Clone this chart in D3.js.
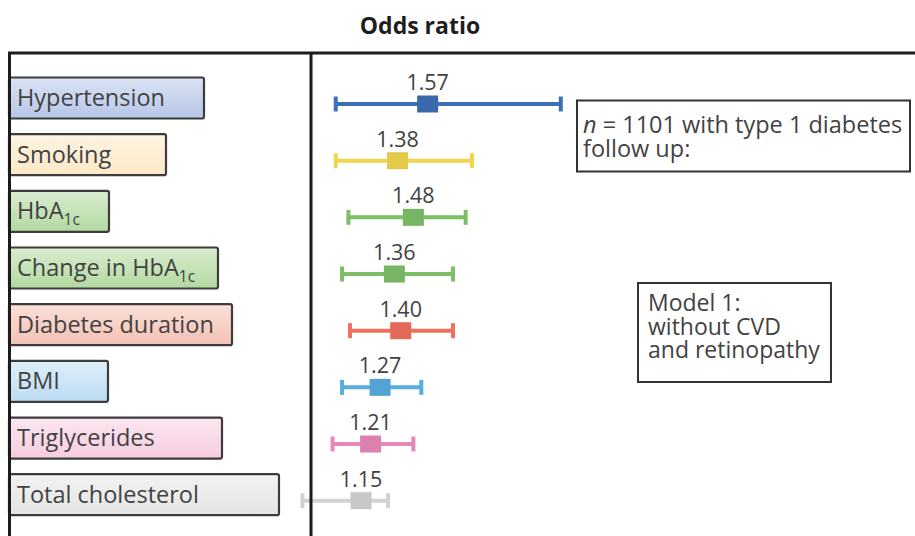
<!DOCTYPE html>
<html>
<head>
<meta charset="utf-8">
<script src="https://cdn.jsdelivr.net/npm/d3@7"></script>
<style>
  html, body { margin: 0; padding: 0; background: #fff; }
  svg { display: block; font-family: "Open Sans", "Noto Sans", sans-serif; }
</style>
</head>
<body>
<svg id="chart" width="915" height="536"></svg>
<script>
// Risk factors (rows, top to bottom)
const categories = ["Hypertension", "Smoking", "HbA1c", "Change in HbA1c",
  "Diabetes duration", "BMI", "Triglycerides", "Total cholesterol"];
// Odds ratios with 95% confidence limits
const oddsRatios = [1.57, 1.38, 1.48, 1.36, 1.40, 1.27, 1.21, 1.15];
const ciLower    = [0.99, 0.99, 1.07, 1.03, 1.08, 1.03, 0.97, 0.78];
const ciUpper    = [2.41, 1.85, 1.81, 1.73, 1.73, 1.53, 1.48, 1.32];
const valueLabels = ["1.57", "1.38", "1.48", "1.36", "1.40", "1.27", "1.21", "1.15"];
// Marker colours and label-box tints per factor
const seriesColors = ["#3e6fb4", "#f2d44e", "#7cbf66", "#7cbf66", "#ef705d", "#58ade0", "#e887ba", "#d2d2d2"];
const boxColors    = ["#b6c6e8", "#fbe8c6", "#b2d9a0", "#b2d9a0", "#f4c1b3", "#bcdcf3", "#f6cde0", "#e4e4e4"];
const noteStudy = ["= 1101 with type 1 diabetes", "follow up:"];
const noteModel = ["Model 1:", "without CVD", "and retinopathy"];

// layout: right edge of each name box
const boxRight = [204, 166, 109, 218, 232, 108, 222, 279];

const svg = d3.select("#chart");
const textColor = "#424242";
const rows = categories.map((c, i) => ({
  name: c, or: oddsRatios[i], lo: ciLower[i], hi: ciUpper[i],
  label: valueLabels[i], color: seriesColors[i], box: boxColors[i], right: boxRight[i], i
}));

const x = d3.scaleLinear().domain([1, 2]).range([337.3, 495.8]);
const y = d3.scalePoint().domain(categories).range([104, 500.7]);

// gradients for the label boxes
const defs = svg.append("defs");
rows.forEach(d => {
  const g = defs.append("linearGradient").attr("id", "g" + d.i)
    .attr("x1", 0).attr("y1", 0).attr("x2", 0).attr("y2", 1);
  g.append("stop").attr("offset", "0%").attr("stop-color", d3.interpolateRgb(d.box, "#ffffff")(0.5));
  g.append("stop").attr("offset", "100%").attr("stop-color", d.box);
});

// title
svg.append("text").attr("x", 420).attr("y", 34).attr("text-anchor", "middle")
  .attr("font-size", 23).attr("font-weight", 700).attr("fill", "#1e1e1e")
  .text("Odds ratio");

// label boxes with factor names
function writeLabel(sel, name, size) {
  const parts = name.split("HbA1c");
  parts.forEach((p, k) => {
    if (p) sel.append("tspan").text(p);
    if (k < parts.length - 1) {
      sel.append("tspan").text("HbA");
      sel.append("tspan").attr("font-size", size * 0.66).attr("dy", 6).text("1c");
    }
  });
}
const lab = svg.append("g").selectAll("g").data(rows).join("g")
  .attr("transform", d => `translate(0,${y(d.name) - 6})`);
lab.append("rect")
  .attr("x", 9).attr("y", -20.5).attr("height", 41).attr("rx", 2)
  .attr("width", d => d.right - 9)
  .attr("fill", d => `url(#g${d.i})`)
  .attr("stroke", "#3c3c3c").attr("stroke-width", 2.2);
lab.append("text").attr("x", 17).attr("y", 8)
  .attr("font-size", 23.5).attr("fill", textColor)
  .each(function(d) { writeLabel(d3.select(this), d.name, 23.5); });

// frame
const frame = svg.append("g").attr("stroke", "#1c1c1c").attr("stroke-width", 3).attr("fill", "none");
frame.append("line").attr("x1", 8).attr("x2", 915).attr("y1", 53).attr("y2", 53);
frame.append("line").attr("x1", 9.5).attr("x2", 9.5).attr("y1", 53).attr("y2", 536);

// confidence intervals and point estimates
const est = svg.append("g").selectAll("g").data(rows).join("g")
  .attr("transform", d => `translate(0,${y(d.name)})`);
est.append("line")
  .attr("x1", d => x(d.lo)).attr("x2", d => x(d.hi))
  .attr("stroke", d => d.color).attr("stroke-width", 4);
est.selectAll("rect.cap").data(d => [d.lo, d.hi].map(v => ({ v, c: d.color }))).join("rect")
  .attr("class", "cap")
  .attr("x", e => x(e.v) - 2).attr("y", -7.5).attr("width", 4).attr("height", 15)
  .attr("fill", e => e.c);
est.append("rect")
  .attr("x", d => x(d.or) - 10.5).attr("y", -8.5).attr("width", 21).attr("height", 17)
  .attr("fill", d => d3.color(d.color).darker(0.15));
est.append("text")
  .attr("x", d => x(d.or)).attr("y", -14).attr("text-anchor", "middle")
  .attr("font-size", 21.5).attr("fill", textColor)
  .text(d => d.label);

// divider between names and estimates
svg.append("line").attr("x1", 311).attr("x2", 311).attr("y1", 53).attr("y2", 536)
  .attr("stroke", "#1c1c1c").attr("stroke-width", 3);

// study note
const n1 = svg.append("g");
n1.append("rect").attr("x", 577).attr("y", 100.5).attr("width", 333).attr("height", 71)
  .attr("fill", "#fff").attr("stroke", "#333").attr("stroke-width", 2);
const t1 = n1.append("text").attr("x", 583).attr("y", 133).attr("font-size", 23.5).attr("fill", textColor);
t1.append("tspan").attr("font-style", "italic").text("n");
t1.append("tspan").text(" " + noteStudy[0]);
n1.append("text").attr("x", 583).attr("y", 157).attr("font-size", 23.5).attr("fill", textColor)
  .text(noteStudy[1]);

// model note
const n2 = svg.append("g");
n2.append("rect").attr("x", 638).attr("y", 283).attr("width", 193).attr("height", 99)
  .attr("fill", "#fff").attr("stroke", "#333").attr("stroke-width", 2);
n2.selectAll("text").data(noteModel).join("text")
  .attr("x", 648).attr("y", (d, k) => 311 + k * 23.5)
  .attr("font-size", 23).attr("fill", textColor).text(d => d);
</script>
</body>
</html>
